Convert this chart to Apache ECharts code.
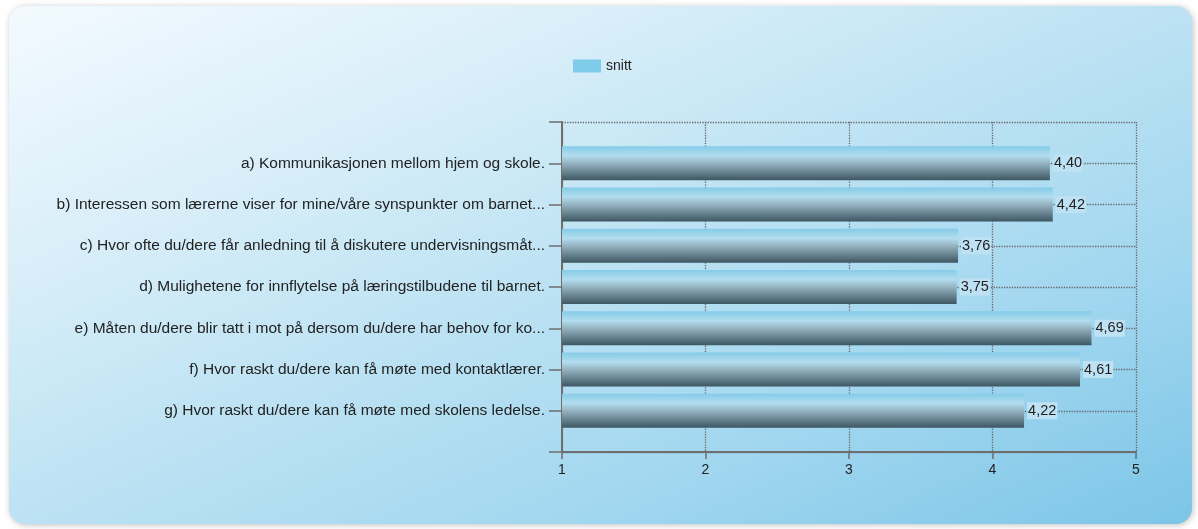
<!DOCTYPE html>
<html>
<head>
<meta charset="utf-8">
<script src="https://cdn.jsdelivr.net/npm/echarts@6/dist/echarts.min.js"></script>
<style>
  html, body { margin: 0; padding: 0; background: #fff; }
  #chart { width: 1198px; height: 529px; }
</style>
</head>
<body>
<div id="chart"></div>
<script>
// categories (top to bottom), blank ends give the padding band at top and bottom
var categories = [
  'a) Kommunikasjonen mellom hjem og skole.',
  'b) Interessen som lærerne viser for mine/våre synspunkter om barnet...',
  'c) Hvor ofte du/dere får anledning til å diskutere undervisningsmåt...',
  'd) Mulighetene for innflytelse på læringstilbudene til barnet.',
  'e) Måten du/dere blir tatt i mot på dersom du/dere har behov for ko...',
  'f) Hvor raskt du/dere kan få møte med kontaktlærer.',
  'g) Hvor raskt du/dere kan få møte med skolens ledelse.'
];
var snitt = [4.40, 4.42, 3.76, 3.75, 4.69, 4.61, 4.22];
var xTicks = [1, 2, 3, 4, 5];

var yData = [''].concat(categories).concat(['']);
var barData = [null].concat(snitt).concat([null]);

var chart = echarts.init(document.getElementById('chart'));

var barColor = new echarts.graphic.LinearGradient(0, 0, 0, 1, [
  { offset: 0, color: '#84cbe8' },
  { offset: 0.28, color: '#b3ddee' },
  { offset: 0.55, color: '#8eaab8' },
  { offset: 1, color: '#3d5662' }
]);

// card: gradient runs so that bottom-left and top-right corners share a colour
var cardX = 9, cardY = 6, cardW = 1183, cardH = 518;
var k = 2 * cardW * cardH / (cardW * cardW + cardH * cardH);

chart.setOption({
  animation: false,
  graphic: [{
    type: 'rect',
    z: -10,
    shape: { x: cardX, y: cardY, width: cardW, height: cardH, r: 16 },
    style: {
      fill: new echarts.graphic.LinearGradient(
        cardX, cardY, cardX + cardH * k, cardY + cardW * k, [
          { offset: 0, color: '#f3faff' },
          { offset: 0.25, color: '#daeff9' },
          { offset: 0.5, color: '#bce2f3' },
          { offset: 0.75, color: '#a0d6ef' },
          { offset: 1, color: '#7cc5e7' }
        ], true),
      shadowBlur: 6,
      shadowColor: 'rgba(0,0,0,0.25)',
      shadowOffsetX: 1,
      shadowOffsetY: 1
    }
  }],
  legend: {
    left: 568,
    top: 54,
    itemWidth: 28,
    itemHeight: 13,
    itemGap: 6,
    icon: 'rect',
    data: ['snitt'],
    itemStyle: { color: '#7ecbea' },
    textStyle: { fontFamily: 'Liberation Sans', fontSize: 14, color: '#222' }
  },
  grid: {
    left: 562,
    right: 62,
    top: 122,
    bottom: 77
  },
  xAxis: {
    type: 'value',
    min: 1,
    max: 5,
    interval: 1,
    data: xTicks,
    axisLine: { show: true, lineStyle: { color: '#6e6e6e', width: 2 } },
    axisTick: { show: true, length: 7, lineStyle: { color: '#6e6e6e', width: 1.5 } },
    axisLabel: { color: '#222', fontFamily: 'Liberation Sans', fontSize: 14, margin: 11 },
    splitLine: { show: true, lineStyle: { color: '#666', type: 'dotted', width: 1.3 } }
  },
  yAxis: {
    type: 'category',
    inverse: true,
    boundaryGap: false,
    data: yData,
    axisLine: { show: true, lineStyle: { color: '#6e6e6e', width: 2 } },
    axisTick: { show: true, length: 13, lineStyle: { color: '#6e6e6e', width: 1.5 } },
    axisLabel: { color: '#222', fontFamily: 'Liberation Sans', fontSize: 15.5, margin: 17 },
    splitLine: { show: true, lineStyle: { color: '#666', type: 'dotted', width: 1.3 } }
  },
  series: [{
    name: 'snitt',
    type: 'bar',
    barWidth: 34,
    data: barData,
    itemStyle: { color: barColor },
    label: {
      show: true,
      position: 'right',
      distance: 3,
      color: '#222',
      fontFamily: 'Liberation Sans',
      fontSize: 14.5,
      backgroundColor: 'rgba(190,226,243,1)',
      padding: [1, 1],
      formatter: function (p) {
        return p.value.toFixed(2).replace('.', ',');
      }
    }
  }]
});
</script>
</body>
</html>
